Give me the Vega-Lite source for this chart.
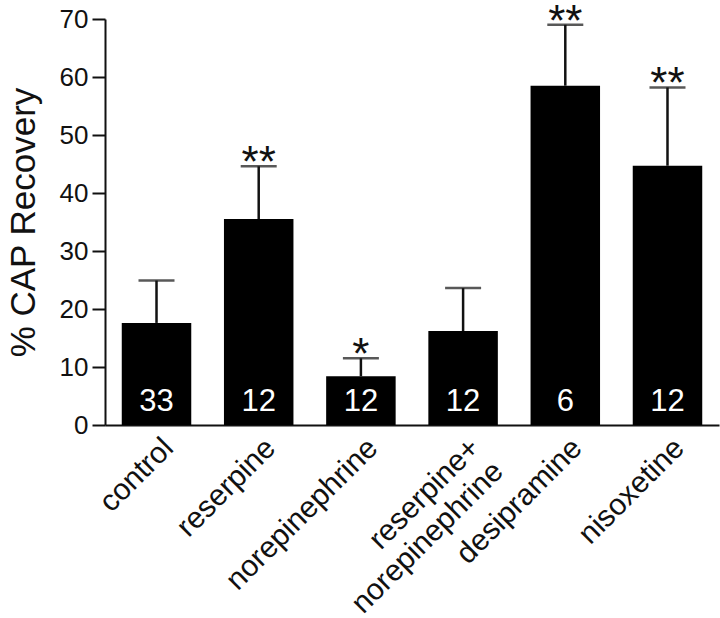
{
  "$schema": "https://vega.github.io/schema/vega-lite/v6.json",
  "width": 614,
  "height": 406,
  "autosize": {"type": "none"},
  "padding": {"left": 105, "top": 19, "right": 1, "bottom": 193},
  "background": "white",
  "config": {
    "view": {"stroke": null},
    "font": "Liberation Sans",
    "axis": {"labelFont": "Liberation Sans", "titleFont": "Liberation Sans", "labelColor": "#111", "titleColor": "#111", "domainColor": "#111", "tickColor": "#111", "grid": false}
  },
  "data": {
    "values": [
      {"group": "control", "mean": 17.6, "err": 24.9, "n": "33", "sig": ""},
      {"group": "reserpine", "mean": 35.5, "err": 44.6, "n": "12", "sig": "**"},
      {"group": "norepinephrine", "mean": 8.4, "err": 11.5, "n": "12", "sig": "*"},
      {"group": "reserpine+|norepinephrine", "mean": 16.2, "err": 23.6, "n": "12", "sig": ""},
      {"group": "desipramine", "mean": 58.5, "err": 69.0, "n": "6", "sig": "**"},
      {"group": "nisoxetine", "mean": 44.7, "err": 58.2, "n": "12", "sig": "**"}
    ]
  },
  "encoding": {
    "x": {
      "field": "group",
      "type": "nominal",
      "sort": null,
      "scale": {"paddingInner": 0.32, "paddingOuter": 0.164},
      "axis": {
        "title": null,
        "labelAngle": -45,
        "labelAlign": "right",
        "labelBaseline": "middle",
        "labelFontSize": 30,
        "labelPadding": 18,
        "labelOffset": 12,
        "labelLineHeight": 33,
        "labelExpr": "split(datum.label, '|')",
        "ticks": false,
        "domainWidth": 2,
        "labelLimit": 400
      }
    }
  },
  "layer": [
    {
      "mark": {"type": "bar", "color": "#000"},
      "encoding": {
        "y": {
          "field": "mean",
          "type": "quantitative",
          "scale": {"domain": [0, 70], "nice": false},
          "axis": {
            "title": "% CAP Recovery",
            "titleFontSize": 35,
            "titleFontWeight": "normal",
            "titlePadding": 18,
            "values": [0, 10, 20, 30, 40, 50, 60, 70],
            "labelFontSize": 26,
            "labelPadding": 4,
            "tickSize": 13,
            "tickWidth": 2,
            "domainWidth": 2
          }
        }
      }
    },
    {
      "mark": {"type": "rule", "color": "#111", "strokeWidth": 2.5},
      "encoding": {
        "y": {"field": "mean", "type": "quantitative"},
        "y2": {"field": "err"}
      }
    },
    {
      "mark": {"type": "tick", "color": "#111", "thickness": 2.5, "size": 36, "orient": "horizontal"},
      "encoding": {
        "y": {"field": "err", "type": "quantitative"}
      }
    },
    {
      "mark": {"type": "text", "fontSize": 44, "baseline": "alphabetic", "align": "center", "dy": 11, "color": "#111"},
      "encoding": {
        "y": {"field": "err", "type": "quantitative"},
        "text": {"field": "sig"}
      }
    },
    {
      "mark": {"type": "text", "fontSize": 31, "baseline": "alphabetic", "align": "center", "dy": -14, "color": "white"},
      "encoding": {
        "y": {"datum": 0, "type": "quantitative"},
        "text": {"field": "n"}
      }
    }
  ]
}
